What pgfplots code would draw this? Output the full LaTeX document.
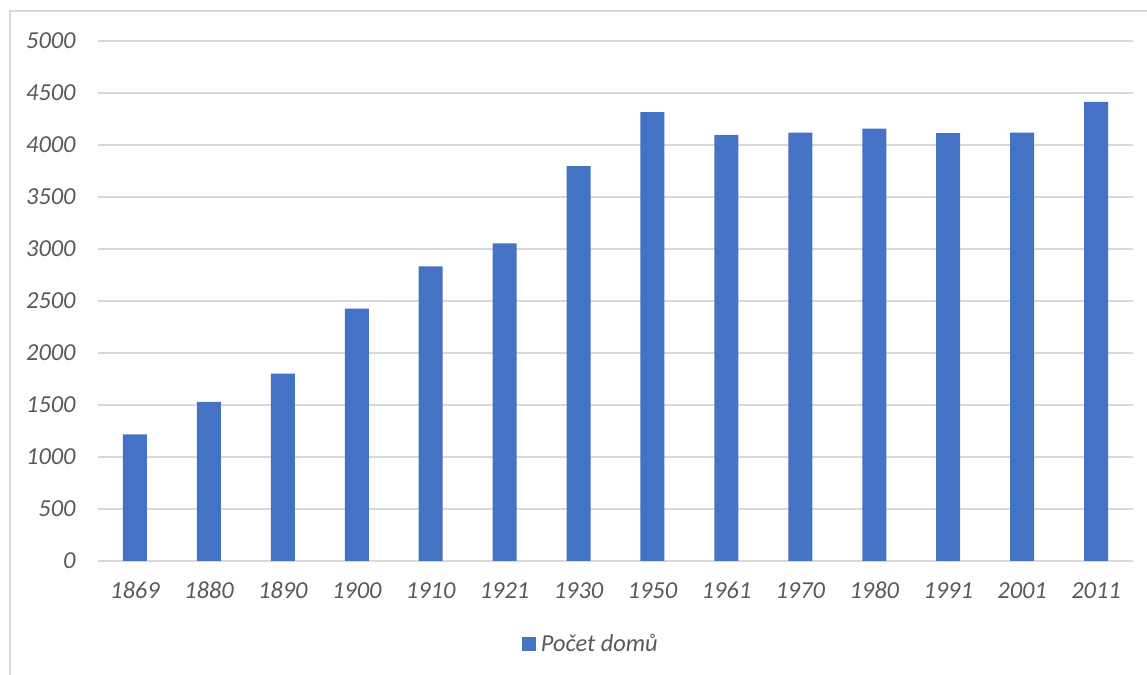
\documentclass[border=0pt]{standalone}
\usepackage{fontspec}
\setmainfont{Carlito}
\usepackage{pgfplots}
\pgfplotsset{compat=1.18}
\definecolor{barblue}{HTML}{4472C4}
\definecolor{tickgray}{HTML}{595959}
\definecolor{gridgray}{HTML}{D9D9D9}
\begin{document}
\begin{tikzpicture}
\useasboundingbox (0pt,0pt) rectangle (573.5pt,337.5pt);
\draw[gridgray, line width=1pt] (5pt,0pt) -- (5pt,332pt) -- (573.5pt,332pt);
\begin{axis}[
  at={(49pt,57pt)}, anchor=south west,
  scale only axis, width=517.5pt, height=260pt,
  xmin=-0.5, xmax=13.5, ymin=0, ymax=5000,
  xtick={0,...,13},
  xticklabels={1869,1880,1890,1900,1910,1921,1930,1950,1961,1970,1980,1991,2001,2011},
  ytick={0,500,...,5000},
  ymajorgrids, grid style={gridgray, line width=0.7pt},
  axis line style={draw=none},
  major tick length=0pt,
  /pgf/number format/.cd, 1000 sep={}, assume math mode=true, /pgfplots/.cd,
  ticklabel style={font=\fontsize{12.2}{14}\selectfont\itshape, text=tickgray},
  yticklabel style={anchor=east, inner sep=0pt, xshift=-11pt},
  xticklabel style={anchor=base, inner sep=0pt, yshift=-19pt},
  legend style={at={(0.403,-0.16)}, anchor=west, draw=none, fill=none,
    font=\fontsize{12.2}{14}\selectfont\itshape, text=tickgray,
    nodes={inner sep=1.2pt}},
  legend image code/.code={\fill[barblue] (0pt,-3.5pt) rectangle (7pt,3.5pt);
    \path (8.5pt,0pt);},
]
\addplot[ybar, bar width=12pt, fill=barblue, draw=none] coordinates {
(0,1218) (1,1529) (2,1802) (3,2426) (4,2834) (5,3055) (6,3798)
(7,4315) (8,4094) (9,4120) (10,4158) (11,4115) (12,4120) (13,4415)
};
\addlegendentry{Počet domů}
\end{axis}
\end{tikzpicture}
\end{document}
